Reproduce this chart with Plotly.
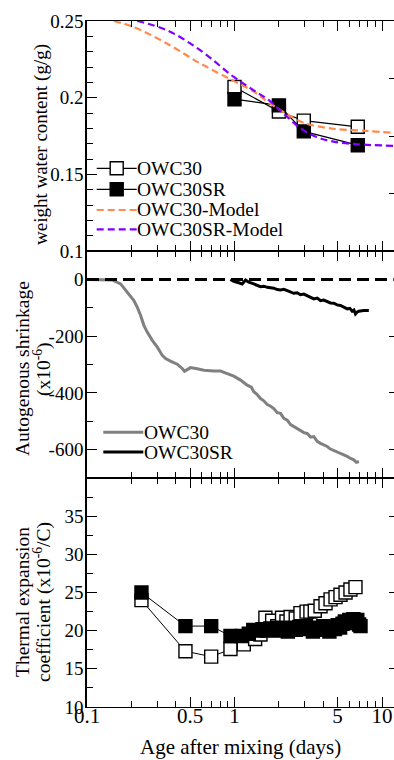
import plotly.graph_objects as go

# ---------------- data ----------------
# Panel 1: weight water content (g/g)
wc_days = [1.0, 2.0, 2.95, 6.85]
wc_owc30 = [0.207, 0.191, 0.185, 0.181]
wc_owc30sr = [0.199, 0.195, 0.178, 0.169]

model30_days = [0.152, 0.208, 0.35, 0.588, 0.99, 1.35, 1.667, 2.2, 2.8, 3.3, 4.7, 7.9, 12.0]
model30_wc = [0.25, 0.246, 0.2352, 0.2222, 0.2108, 0.204, 0.1975, 0.190, 0.1845, 0.1822, 0.1797, 0.1783, 0.1771]
model30sr_days = [0.219, 0.35, 0.588, 0.99, 1.35, 1.7, 2.2, 2.8, 3.6, 4.7, 6.8, 12.0]
model30sr_wc = [0.25, 0.2439, 0.2308, 0.2135, 0.2048, 0.1985, 0.1888, 0.1800, 0.1743, 0.1713, 0.1696, 0.1686]

# Panel 2: autogenous shrinkage (x10^-6)
zero_days = [0.1, 12.0]
zero_vals = [0, 0]
ash30_days = [0.1, 0.148, 0.169, 0.192, 0.208, 0.219, 0.231, 0.243, 0.256, 0.277, 0.299, 0.324,
              0.341, 0.368, 0.409, 0.442, 0.458, 0.478, 0.503, 0.559, 0.62, 0.725, 0.804, 0.893,
              0.989, 1.099, 1.219, 1.30, 1.352, 1.42, 1.50, 1.58, 1.667, 1.75, 1.846, 1.95, 2.05,
              2.16, 2.28, 2.40, 2.52, 2.66, 2.80, 2.95, 3.11, 3.28, 3.45, 3.64, 3.83, 4.03, 4.25,
              4.47, 4.71, 4.96, 5.23, 5.51, 5.81, 6.12, 6.44, 6.70, 6.97]
ash30_vals = [0, -2, -16, -51, -75, -98, -127, -162, -186, -215, -238, -268,
              -279, -288, -299, -314, -324, -318, -311, -315, -320, -323, -323, -332,
              -341, -355, -373, -380, -396, -405, -420, -428, -441, -446, -455, -470, -472,
              -490, -496, -512, -519, -526, -531, -540, -543, -556, -554, -571, -578, -583, -589,
              -598, -603, -609, -613, -619, -624, -631, -636, -645, -642]
ash30sr_days = [0.939, 0.989, 1.069, 1.127, 1.188, 1.25, 1.352, 1.42, 1.50, 1.58, 1.667, 1.846,
                1.95, 2.05, 2.16, 2.28, 2.40, 2.52, 2.66, 2.80, 2.95, 3.11, 3.28, 3.45, 3.64,
                3.83, 4.03, 4.25, 4.47, 4.71, 4.96, 5.23, 5.51, 5.81, 6.05, 6.28, 6.45, 6.61,
                6.80, 6.97, 7.53, 8.14]
ash30sr_vals = [0, -7, -12, -16, -2, -10, -16, -20, -26, -24, -28, -31,
                -36, -37, -35, -40, -46, -49, -47, -54, -52, -57, -64, -69, -66,
                -75, -73, -78, -83, -84, -90, -92, -99, -104, -102, -112, -108, -122,
                -115, -112, -110, -110]

# Panel 3: thermal expansion coefficient (x10^-6/C)
cte30_days = [0.234, 0.465, 0.695, 0.939, 1.156, 1.38, 1.50, 1.62, 1.80, 1.95, 2.10, 2.25, 2.40,
              2.60, 2.80, 3.08, 3.27, 3.50, 3.83, 4.14, 4.48, 4.84, 5.23, 5.66, 6.11, 6.61]
cte30_vals = [24.0, 17.3, 16.6, 17.6, 18.2, 18.9, 19.5, 21.7, 21.3, 20.6, 21.7, 21.2, 21.8,
              21.6, 22.3, 22.5, 22.5, 22.6, 23.2, 23.6, 24.1, 24.4, 24.7, 25.0, 25.4, 25.7]
cte30sr_days = [0.234, 0.465, 0.695, 0.939, 1.12, 1.25, 1.34, 1.45, 1.55, 1.65, 1.75, 1.85, 1.95,
                2.05, 2.15, 2.30, 2.45, 2.60, 2.75, 2.90, 3.05, 3.20, 3.40, 3.60, 3.80, 4.00,
                4.20, 4.40, 4.60, 4.80, 5.00, 5.20, 5.40, 5.60, 5.80, 6.00, 6.20, 6.40, 6.60,
                6.80, 7.00, 7.15]
cte30sr_vals = [25.0, 20.6, 20.6, 19.3, 19.3, 19.6, 20.1, 20.0, 20.2, 20.0, 20.3, 20.1, 20.4,
                20.0, 20.3, 19.9, 20.4, 20.1, 20.5, 20.2, 20.6, 20.3, 19.9, 20.4, 20.1, 20.6,
                20.3, 19.9, 20.5, 20.2, 20.7, 20.4, 20.9, 21.2, 21.0, 21.4, 21.2, 21.5, 21.3,
                21.4, 20.8, 20.6]

x_major = [0.1, 0.5, 1, 5, 10]
x_major_text = ["0.1", "0.5", "1", "5", "10"]
x_minor = [0.2, 0.3, 0.4, 0.6, 0.7, 0.8, 0.9, 2, 3, 4, 6, 7, 8, 9]

# ---------------- layout geometry ----------------
W, H = 394, 760
L, R, T, B = 87, 0, 21, 53
PW, PH = W - L - R, H - T - B
FONT = "Liberation Serif, Times New Roman, serif"


def px(p):
    return (p - L) / PW


def py(p):
    return (H - B - p) / PH


d1 = [456 / PH, 1.0]
d2 = [229 / PH, 456 / PH]
d3 = [0.0, 229 / PH]

fig = go.Figure()

# Panel 1
fig.add_trace(go.Scatter(x=wc_days, y=wc_owc30, mode="lines+markers", xaxis="x", yaxis="y",
                         line=dict(color="black", width=1.2),
                         marker=dict(symbol="square", size=13, color="white",
                                     line=dict(color="black", width=1.4))))
fig.add_trace(go.Scatter(x=wc_days, y=wc_owc30sr, mode="lines+markers", xaxis="x", yaxis="y",
                         line=dict(color="black", width=1.2),
                         marker=dict(symbol="square", size=13, color="black",
                                     line=dict(color="black", width=1.4))))
fig.add_trace(go.Scatter(x=model30_days, y=model30_wc, mode="lines", xaxis="x", yaxis="y",
                         line=dict(color="#FF8A4C", width=2.2, dash="7px,4px", shape="spline")))
fig.add_trace(go.Scatter(x=model30sr_days, y=model30sr_wc, mode="lines", xaxis="x", yaxis="y",
                         line=dict(color="#8000FF", width=2.2, dash="7px,4px", shape="spline")))

# Panel 2
fig.add_trace(go.Scatter(x=ash30_days, y=ash30_vals, mode="lines", xaxis="x2", yaxis="y2",
                         line=dict(color="#808080", width=3)))
fig.add_trace(go.Scatter(x=zero_days, y=zero_vals, mode="lines", xaxis="x2", yaxis="y2",
                         line=dict(color="black", width=3, dash="12px,6px")))
fig.add_trace(go.Scatter(x=ash30sr_days, y=ash30sr_vals, mode="lines", xaxis="x2", yaxis="y2",
                         line=dict(color="black", width=3)))

# Panel 3
fig.add_trace(go.Scatter(x=cte30_days, y=cte30_vals, mode="lines+markers", xaxis="x3", yaxis="y3",
                         line=dict(color="black", width=1),
                         marker=dict(symbol="square", size=13, color="white",
                                     line=dict(color="black", width=1.4))))
fig.add_trace(go.Scatter(x=cte30sr_days, y=cte30sr_vals, mode="lines+markers", xaxis="x3", yaxis="y3",
                         line=dict(color="black", width=1),
                         marker=dict(symbol="square", size=13, color="black",
                                     line=dict(color="black", width=1.4))))

for tr in fig.data:
    tr.showlegend = False
    tr.hoverinfo = "skip"

xcommon = dict(type="log", range=[-1, -1 + PW / 147.5], showline=True, linecolor="black",
               linewidth=1, mirror="ticks", ticks="inside", ticklen=10, tickwidth=1.2,
               tickcolor="black", tickmode="array", tickvals=x_major, ticktext=x_major_text,
               minor=dict(tickmode="array", tickvals=x_minor, ticks="inside", ticklen=6,
                          tickwidth=1.2, tickcolor="black", showgrid=False),
               showgrid=False, zeroline=False, tickfont=dict(family=FONT, size=21, color="black"))

ycommon = dict(showline=True, linecolor="black", linewidth=1.5, ticks="inside", ticklen=10,
               tickwidth=1.2, tickcolor="black", showgrid=False, zeroline=False,
               tickfont=dict(family=FONT, size=19, color="black"), tickmode="array",
               ticklabelstandoff=-2)

rightcommon = dict(side="right", showline=False, ticks="inside", ticklen=5, tickwidth=1.2,
                   tickcolor="black", showticklabels=False, showgrid=False, zeroline=False,
                   tickmode="array")

fig.update_layout(
    width=W, height=H, margin=dict(l=L, r=R, t=T, b=B),
    paper_bgcolor="white", plot_bgcolor="white", showlegend=False,
    font=dict(family=FONT, size=19, color="black"),
    xaxis=dict(xcommon, anchor="y", showticklabels=False),
    xaxis2=dict(xcommon, anchor="y2", matches="x", showticklabels=False),
    xaxis3=dict(xcommon, anchor="y3", matches="x", showticklabels=True, ticklabelstandoff=-10),
    yaxis=dict(ycommon, domain=d1, anchor="x", range=[0.1, 0.25],
               tickvals=[0.1, 0.15, 0.2, 0.25], ticktext=["0.1", "0.15", "0.2", "0.25"],
               minor=dict(tickmode="array",
                          tickvals=[0.11, 0.12, 0.13, 0.14, 0.16, 0.17, 0.18, 0.19,
                                    0.21, 0.22, 0.23, 0.24],
                          ticks="inside", ticklen=6, tickwidth=1.2, tickcolor="black")),
    yaxis2=dict(ycommon, domain=d2, anchor="x2", range=[-700, 100],
                tickvals=[-600, -400, -200, 0], ticktext=["-600", "-400", "-200", "0"],
                minor=dict(tickmode="array", tickvals=[-500, -300, -100],
                           ticks="inside", ticklen=6, tickwidth=1.2, tickcolor="black")),
    yaxis3=dict(ycommon, domain=d3, anchor="x3", range=[10, 40],
                tickvals=[10, 15, 20, 25, 30, 35], ticktext=["10", "15", "20", "25", "30", "35"],
                minor=dict(tickmode="array", tickvals=[12.5, 17.5, 22.5, 27.5, 32.5, 37.5],
                           ticks="inside", ticklen=6, tickwidth=1.2, tickcolor="black")),
    yaxis4=dict(rightcommon, overlaying="y", anchor="x", range=[0, 1], tickvals=[0.25, 0.5, 0.75]),
    yaxis5=dict(rightcommon, overlaying="y2", anchor="x2", range=[-700, 100],
                tickvals=[-600, -400, -200]),
    yaxis6=dict(rightcommon, overlaying="y3", anchor="x3", range=[10, 40],
                tickvals=[15, 20, 25, 30, 35]),
)

# invisible carriers so the right-side tick axes are drawn
for ya, xa in (("y4", "x"), ("y5", "x2"), ("y6", "x3")):
    fig.add_trace(go.Scatter(x=[None], y=[None], xaxis=xa, yaxis=ya, mode="lines",
                             showlegend=False, hoverinfo="skip"))

# ---------------- titles ----------------
ann = []


def vtitle(text, xc, yc, size=19):
    ann.append(dict(text=text, x=px(xc), y=py(yc), xref="paper", yref="paper",
                    xanchor="center", yanchor="middle", textangle=-90, showarrow=False,
                    font=dict(family=FONT, size=size, color="black")))


vtitle("weight water content (g/g)", 41, 145)
vtitle("Autogenous shrinkage", 22, 369, 19.5)
vtitle("(x10<sup>-6</sup>)", 42, 369, 19.5)
vtitle("Thermal expansion", 22, 602, 19.5)
vtitle("coefficient (x10<sup>-6</sup>/C)", 42, 602, 19.5)

ann.append(dict(text="Age after mixing (days)", x=px(240), y=py(747), xref="paper", yref="paper",
                xanchor="center", yanchor="middle", showarrow=False,
                font=dict(family=FONT, size=21, color="black")))

# ---------------- legends (drawn) ----------------
shapes = []


def leg_text(text, x0, yc):
    ann.append(dict(text=text, x=px(x0), y=py(yc), xref="paper", yref="paper",
                    xanchor="left", yanchor="middle", showarrow=False,
                    font=dict(family=FONT, size=19.5, color="black")))


def leg_line(x0, x1, yc, color, width, dash="solid"):
    shapes.append(dict(type="line", xref="paper", yref="paper", x0=px(x0), x1=px(x1),
                       y0=py(yc), y1=py(yc), line=dict(color=color, width=width, dash=dash)))


def leg_square(xc, yc, fill):
    s = 6.5
    shapes.append(dict(type="rect", xref="paper", yref="paper", x0=px(xc - s), x1=px(xc + s),
                       y0=py(yc + s), y1=py(yc - s), fillcolor=fill,
                       line=dict(color="black", width=1.4)))


rows1 = [168.3, 189.3, 210, 229.3]
leg_line(96.7, 136.7, rows1[0], "black", 1.2)
leg_square(116.7, rows1[0], "white")
leg_text("OWC30", 135, rows1[0])
leg_line(96.7, 136.7, rows1[1], "black", 1.2)
leg_square(116.7, rows1[1], "black")
leg_text("OWC30SR", 135, rows1[1])
leg_line(96.7, 136.7, rows1[2], "#FF8A4C", 2.2, "7px,4px")
leg_text("OWC30-Model", 135, rows1[2])
leg_line(96.7, 136.7, rows1[3], "#8000FF", 2.2, "7px,4px")
leg_text("OWC30SR-Model", 135, rows1[3])

rows2 = [432.3, 452.0]
leg_line(103.3, 143.3, rows2[0], "#808080", 3)
leg_text("OWC30", 142, rows2[0])
leg_line(103.3, 143.3, rows2[1], "black", 3)
leg_text("OWC30SR", 142, rows2[1])

fig.update_layout(annotations=ann, shapes=shapes)

fig.write_html("out.html")
